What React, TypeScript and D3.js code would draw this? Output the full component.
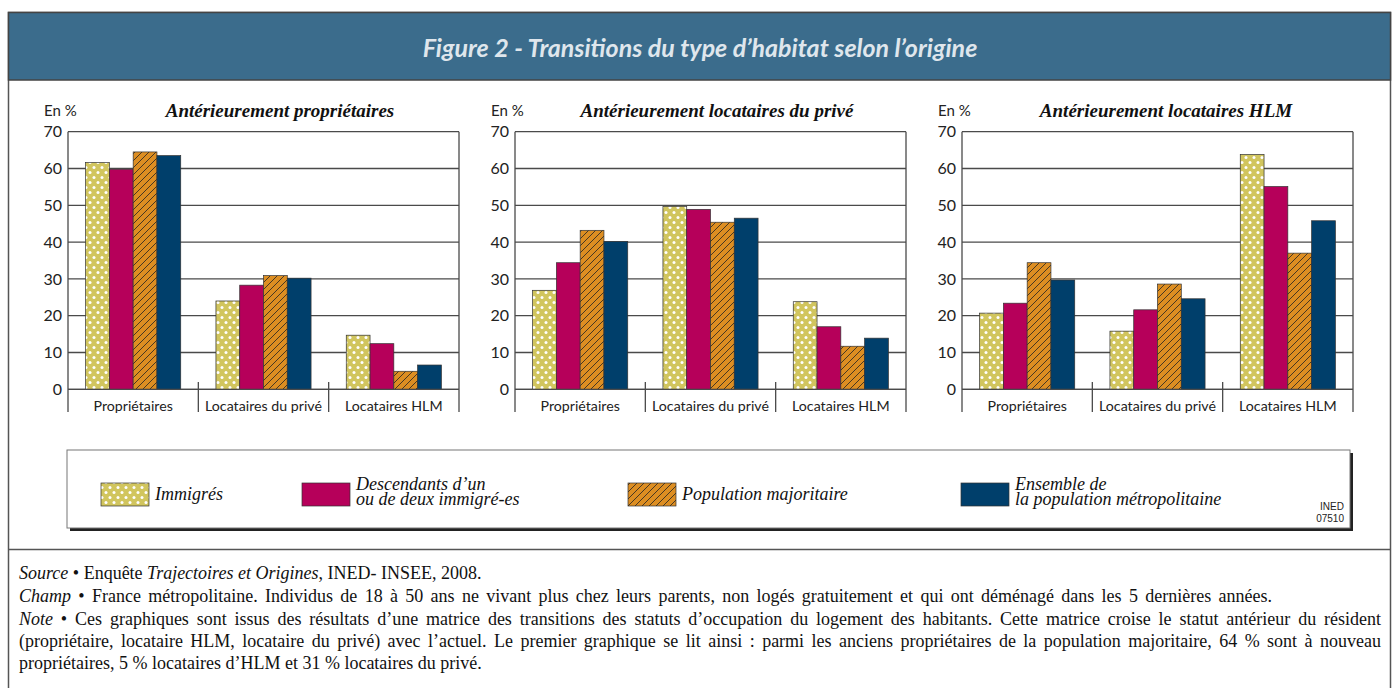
import React, { useLayoutEffect, useRef, useState } from "react";
import * as d3 from "d3";

// Categories of current housing (x axis in every panel)
const categories = ["Propriétaires", "Locataires du privé", "Locataires HLM"];
const seriesNames = ["Immigrés", "Descendants", "Population majoritaire", "Ensemble"];
const legendLabels = [
  ["Immigrés"],
  ["Descendants d’un", "ou de deux immigré-es"],
  ["Population majoritaire"],
  ["Ensemble de", "la population métropolitaine"],
];
const panelTitles = [
  "Antérieurement propriétaires",
  "Antérieurement locataires du privé",
  "Antérieurement locataires HLM",
];
// values in %, one row per category: [Immigrés, Descendants, Pop. majoritaire, Ensemble]
const anterieurProprietaires = [
  [61.6, 59.8, 64.5, 63.5],
  [24.0, 28.3, 30.9, 30.2],
  [14.7, 12.4, 4.9, 6.6],
];
const anterieurLocPrive = [
  [26.9, 34.4, 43.2, 40.2],
  [49.7, 48.9, 45.4, 46.5],
  [23.8, 17.0, 11.7, 13.9],
];
const anterieurLocHLM = [
  [20.7, 23.4, 34.4, 29.7],
  [15.8, 21.6, 28.6, 24.6],
  [63.8, 55.1, 37.0, 45.8],
];
const yTicks = [0, 10, 20, 30, 40, 50, 60, 70];

const panels = [anterieurProprietaires, anterieurLocPrive, anterieurLocHLM];
const fills = ["url(#dots)", "#b6005a", "url(#hatch)", "#003f6b"];
const SANS = "Lato, 'Open Sans', sans-serif";
const SERIF = "'Liberation Serif', 'Times New Roman', serif";

const plotW = 391;
const yZero = 389.3;
const yTop = 131.7;
const axisBottom = 412;
const titleShift = [212, 202, 204];

const Panel: React.FC<{ x0: number; title: string; data: number[][]; shift: number }> = ({ x0, title, data, shift }) => {
  const y = d3.scaleLinear().domain([0, 70]).range([yZero, yTop]);
  const x = d3.scaleBand().domain(categories).range([x0, x0 + plotW]);
  const xs = d3.scaleBand().domain(seriesNames).range([0, x.bandwidth()]).paddingOuter(0.74);
  return (
    <g>
      <text x={x0 - 24} y={116} fontFamily={SANS} fontSize={15} fill="#222">En %</text>
      <text x={x0 + shift} y={117} textAnchor="middle" fontFamily={SERIF}
        fontStyle="italic" fontWeight="bold" fontSize={19} fill="#111">{title}</text>
      {yTicks.map(t => (
        <g key={t}>
          <line x1={x0} x2={x0 + plotW} y1={y(t)} y2={y(t)} stroke="#4a4a4a" strokeWidth={1.3} />
          <text x={x0 - 6} y={y(t)} dy="0.36em" textAnchor="end" fontFamily={SANS}
            fontSize={16} fill="#222">{t}</text>
        </g>
      ))}
      <line x1={x0} x2={x0} y1={yTop} y2={axisBottom} stroke="#4a4a4a" strokeWidth={1.3} />
      <line x1={x0 + plotW} x2={x0 + plotW} y1={yTop} y2={axisBottom} stroke="#4a4a4a" strokeWidth={1.3} />
      {categories.slice(1).map(c => (
        <line key={c} x1={x(c)!} x2={x(c)!} y1={382} y2={axisBottom} stroke="#4a4a4a" strokeWidth={1.3} />
      ))}
      {categories.map((c, i) => (
        <g key={c}>
          {data[i].map((v, j) => (
            <rect key={j} x={x(c)! + xs(seriesNames[j])!} y={y(v)} width={xs.bandwidth()}
              height={yZero - y(v)} fill={fills[j]} stroke="#333" strokeWidth={0.7} />
          ))}
          <text x={x(c)! + x.bandwidth() / 2} y={411} textAnchor="middle" fontFamily={SANS}
            fontSize={14.2} fill="#222">{c}</text>
        </g>
      ))}
      <line x1={x0} x2={x0 + plotW} y1={yZero} y2={yZero} stroke="#4a4a4a" strokeWidth={1.3} />
    </g>
  );
};

// text line stretched to a given width through word spacing (justified look)
const FitText: React.FC<{ x: number; y: number; width: number; children: React.ReactNode }> = ({ x, y, width, children }) => {
  const ref = useRef<SVGTextElement | null>(null);
  const [ws, setWs] = useState(0);
  useLayoutEffect(() => {
    if (!ref.current) return;
    const natural = ref.current.getComputedTextLength();
    const spaces = (ref.current.textContent || "").split(" ").length - 1;
    if (spaces > 0) setWs(Math.max(0, (width - natural) / spaces));
  }, [width]);
  return <text ref={ref} x={x} y={y} wordSpacing={ws}>{children}</text>;
};

const legendX = [101, 302, 628, 961];

const App: React.FC = () => {
  const panelX = d3.range(3).map(i => 68 + i * 447);
  return (
    <svg width={1397} height={688} style={{ position: "absolute", left: 0, top: 0, background: "#fff" }}>
      <defs>
        <pattern id="dots" patternUnits="userSpaceOnUse" width={8} height={10}>
          <rect width={8} height={10} fill="#d1c55e" />
          <circle cx={2} cy={2.5} r={1.5} fill="#fff" />
          <circle cx={6} cy={7.5} r={1.5} fill="#fff" />
        </pattern>
        <pattern id="hatch" patternUnits="userSpaceOnUse" width={7} height={7}>
          <rect width={7} height={7} fill="#dd8e22" />
          <path d="M0,7 L7,0 M-1.75,1.75 L1.75,-1.75 M5.25,8.75 L8.75,5.25" stroke="#222" strokeWidth={0.8} />
        </pattern>
      </defs>

      {/* outer frame and header */}
      <rect x={8.5} y={12.5} width={1382} height={700} fill="none" stroke="#555" strokeWidth={1.5} />
      <rect x={8.5} y={12.5} width={1382} height={67.5} fill="#3b6c8c" stroke="#444" strokeWidth={1.5} />
      <text x={700} y={57} textAnchor="middle" fontFamily={SANS} fontStyle="italic" fontWeight="bold"
        fontSize={25} fill="#dfe6ec">Figure 2 - Transitions du type d’habitat selon l’origine</text>
      <line x1={8} x2={1391} y1={549.5} y2={549.5} stroke="#555" strokeWidth={1.5} />

      {panels.map((d, i) => (
        <Panel key={i} x0={panelX[i]} title={panelTitles[i]} data={d} shift={titleShift[i]} />
      ))}

      {/* legend */}
      <rect x={70} y={453} width={1283} height={78} fill="#222" />
      <rect x={67} y={450} width={1283} height={78} fill="#fff" stroke="#777" strokeWidth={1} />
      {legendLabels.map((lines, i) => (
        <g key={i}>
          <rect x={legendX[i]} y={483} width={48} height={23} fill={fills[i]} stroke="#333" strokeWidth={0.7} />
          {lines.map((l, k) => (
            <text key={k} x={legendX[i] + 54}
              y={lines.length === 1 ? 500 : 490 + k * 15}
              fontFamily={SERIF} fontStyle="italic" fontSize={18} fill="#111">{l}</text>
          ))}
        </g>
      ))}
      <text x={1344} y={510} textAnchor="end" fontFamily="'Liberation Sans Narrow', 'Liberation Sans', sans-serif"
        fontSize={10} fill="#222">INED</text>
      <text x={1344} y={522} textAnchor="end" fontFamily="'Liberation Sans Narrow', 'Liberation Sans', sans-serif"
        fontSize={10} fill="#222">07510</text>

      {/* notes */}
      <g fontFamily={SERIF} fontSize={18} fill="#111">
        <text x={19} y={579}>
          <tspan fontStyle="italic">Source</tspan> • Enquête <tspan fontStyle="italic">Trajectoires et Origines</tspan>, INED- INSEE, 2008.
        </text>
        <FitText x={19} y={602} width={1253}>
          <tspan fontStyle="italic">Champ</tspan> • France métropolitaine. Individus de 18 à 50 ans ne vivant plus chez leurs parents, non logés gratuitement et qui ont déménagé dans les 5 dernières années.
        </FitText>
        <FitText x={19} y={625} width={1362}>
          <tspan fontStyle="italic">Note</tspan> • Ces graphiques sont issus des résultats d’une matrice des transitions des statuts d’occupation du logement des habitants. Cette matrice croise le statut antérieur du résident
        </FitText>
        <FitText x={19} y={647} width={1362}>
          (propriétaire, locataire HLM, locataire du privé) avec l’actuel. Le premier graphique se lit ainsi : parmi les anciens propriétaires de la population majoritaire, 64 % sont à nouveau
        </FitText>
        <text x={19} y={669}>
          propriétaires, 5 % locataires d’HLM et 31 % locataires du privé.
        </text>
      </g>
    </svg>
  );
};

export default App;
